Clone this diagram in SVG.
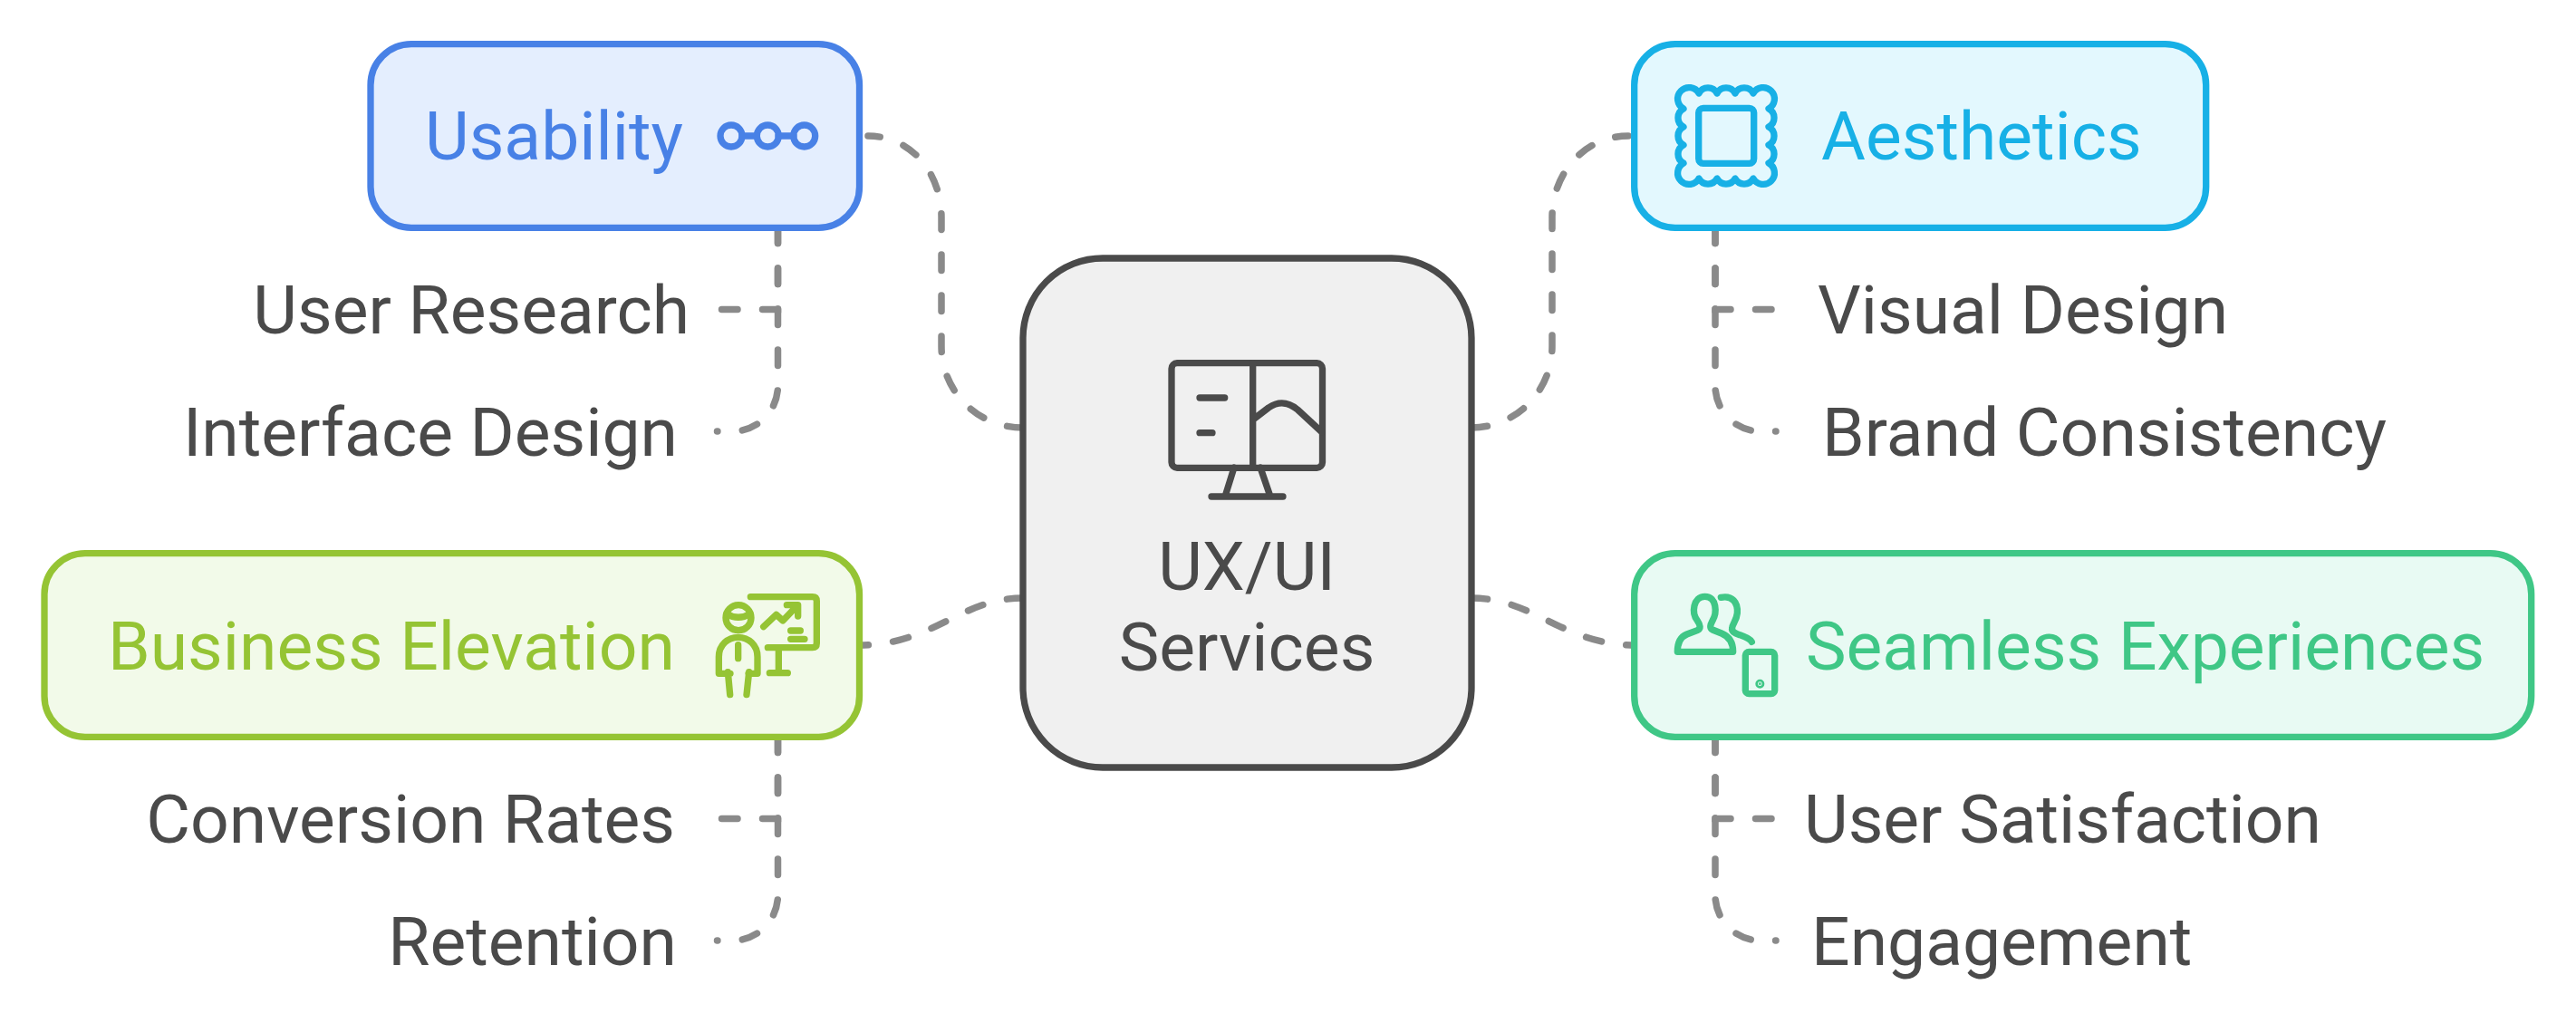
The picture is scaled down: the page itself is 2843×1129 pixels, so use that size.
<svg xmlns="http://www.w3.org/2000/svg" width="2843" height="1129" viewBox="0 0 2843 1129">
<style>
text{font-family:Roboto,"Liberation Sans",sans-serif;font-size:75px}
.lbl{fill:#4a4a4a}
.box{stroke-width:7.3}
.ic{fill:none;stroke-width:7.3;stroke-linecap:round;stroke-linejoin:round}
.ic3{fill:none;stroke-width:22;stroke-linecap:round;stroke-linejoin:round}
#connectors path{fill:none;stroke:#8a8a8a;stroke-width:7.5;stroke-linecap:round;stroke-dasharray:17.500 27.500}
</style>
<rect width="2843" height="1129" fill="#fff"/>
<g id="connectors">
<path d="M1129 472C1079 472 1039 432 1039 382V240C1039 190 1005 150 958 150"/>
<path d="M1624 472C1673 472 1713 432 1713 382V240C1713 190 1750 150 1797 150"/>
<path d="M1129 660C1060 660 1030 712 948 712"/>
<path d="M1624 660C1693 660 1725 712 1805 712"/>
<path d="M858.500 251V341.500H793"/>
<path d="M858.500 251V426A50 50 0 0 1 808.500 476H791.500"/>
<path d="M858.500 813V903.500H793"/>
<path d="M858.500 813V988A50 50 0 0 1 808.500 1038H791.500"/>
<path d="M1893 251V341.500H1958"/>
<path d="M1893 251V426A50 50 0 0 0 1943 476H1960"/>
<path d="M1893 813V903.500H1958"/>
<path d="M1893 813V988A50 50 0 0 0 1943 1038H1960"/>
</g>
<g id="center">
<rect class="box" x="1129" y="285" width="495" height="562" rx="88" fill="#f0f0f0" stroke="#4a4a4a"/>
<g class="ic" stroke="#4a4a4a">
<rect x="1293" y="400.700" width="166.500" height="115.600" rx="6"/>
<path d="M1382.700 400.700V516.300M1324 439H1351.700M1324 477.700H1338M1383 463L1400 450C1412 442 1422 444 1432 452L1459 477M1362 516L1352 548M1391 516L1402 548M1337 548H1416"/>
</g>
<text class="lbl" x="1376" y="651" text-anchor="middle">UX/UI</text>
<text class="lbl" x="1376" y="740" text-anchor="middle">Services</text>
</g>
<g id="usability">
<rect class="box" x="409" y="48.700" width="539.500" height="202.600" rx="45" fill="#e4eefe" stroke="#4881e6"/>
<text x="469" y="176" fill="#4881e6">Usability</text>
<g class="ic" stroke="#4881e6"><circle cx="807" cy="150" r="12"/><circle cx="847.300" cy="150" r="12"/><circle cx="887.700" cy="150" r="12"/><path d="M819 150H835M859 150H876"/></g>
</g>
<g id="aesthetics">
<rect class="box" x="1803.700" y="48.700" width="631" height="202.600" rx="45" fill="#e3f8fe" stroke="#17b0e6"/>
<text x="2010" y="176" fill="#17b0e6">Aesthetics</text>
<g class="ic" stroke="#17b0e6"><rect x="1874.700" y="119.300" width="61" height="61" rx="5"/>
<path d="M1875 103A11.300 11.300 0 0 1 1895 103A11.300 11.300 0 0 1 1915 103A11.300 11.300 0 0 1 1935 103A12.500 12.500 0 1 1 1952 120A11.300 11.300 0 0 1 1952 140A11.300 11.300 0 0 1 1952 160A11.300 11.300 0 0 1 1952 180A12.500 12.500 0 1 1 1935 197A11.300 11.300 0 0 1 1915 197A11.300 11.300 0 0 1 1895 197A11.300 11.300 0 0 1 1875 197A12.500 12.500 0 1 1 1858 180A11.300 11.300 0 0 1 1858 160A11.300 11.300 0 0 1 1858 140A11.300 11.300 0 0 1 1858 120A12.500 12.500 0 1 1 1875 103Z"/></g>
</g>
<g id="business">
<rect class="box" x="49" y="610.700" width="899.500" height="202.600" rx="45" fill="#f2fae9" stroke="#95c434"/>
<text x="119" y="739" fill="#95c434">Business Elevation</text>
<g class="ic3" stroke="#95c434" transform="translate(740 600) scale(.33333)">
<circle cx="225" cy="245" r="42"/><path d="M186 232Q224 256 264 232"/>
<path d="M198 430H160V375C160 335 190 310 224 310C258 310 288 335 288 375V430H258M190 425L197 500M260 425L252 500M224 335V380"/>
<path d="M265 176H470Q484 176 484 190V330Q484 344 470 344H322M358 344V428M328 428H388M308 275L350 235L372 255L420 205M385 203H422V240M398 288H430M398 316H444"/>
</g>
</g>
<g id="seamless">
<rect class="box" x="1803.700" y="610.700" width="990" height="202.600" rx="45" fill="#e8faf3" stroke="#3fc786"/>
<text x="1993" y="739" fill="#3fc786">Seamless Experiences</text>
<g class="ic3" stroke="#3fc786" transform="translate(1780 600) scale(.33333)">
<path d="M214 358H398C398 320 380 305 360 297L330 285C320 280 322 270 330 255C345 230 345 175 305 175C265 175 260 230 280 255C290 270 292 280 280 287L245 300C225 308 214 325 214 358Z"/>
<path d="M358 178C395 170 415 195 412 230C410 255 395 265 395 280C393 290 400 295 420 302C440 310 455 315 460 325"/>
<rect x="439" y="358" width="97" height="139" rx="12"/>
<circle cx="487" cy="464" r="4" fill="#3fc786"/>
</g>
</g>
<g id="user-research"><text class="lbl" x="761" y="367.500" text-anchor="end">User Research</text></g>
<g id="interface-design"><text class="lbl" x="748" y="503" text-anchor="end">Interface Design</text></g>
<g id="conversion-rates"><text class="lbl" x="745" y="930" text-anchor="end">Conversion Rates</text></g>
<g id="retention"><text class="lbl" x="747" y="1064.500" text-anchor="end">Retention</text></g>
<g id="visual-design"><text class="lbl" x="2006" y="367.500">Visual Design</text></g>
<g id="brand-consistency"><text class="lbl" x="2011" y="503">Brand Consistency</text></g>
<g id="user-satisfaction"><text class="lbl" x="1991" y="930">User Satisfaction</text></g>
<g id="engagement"><text class="lbl" x="1999" y="1064.500">Engagement</text></g>
</svg>
